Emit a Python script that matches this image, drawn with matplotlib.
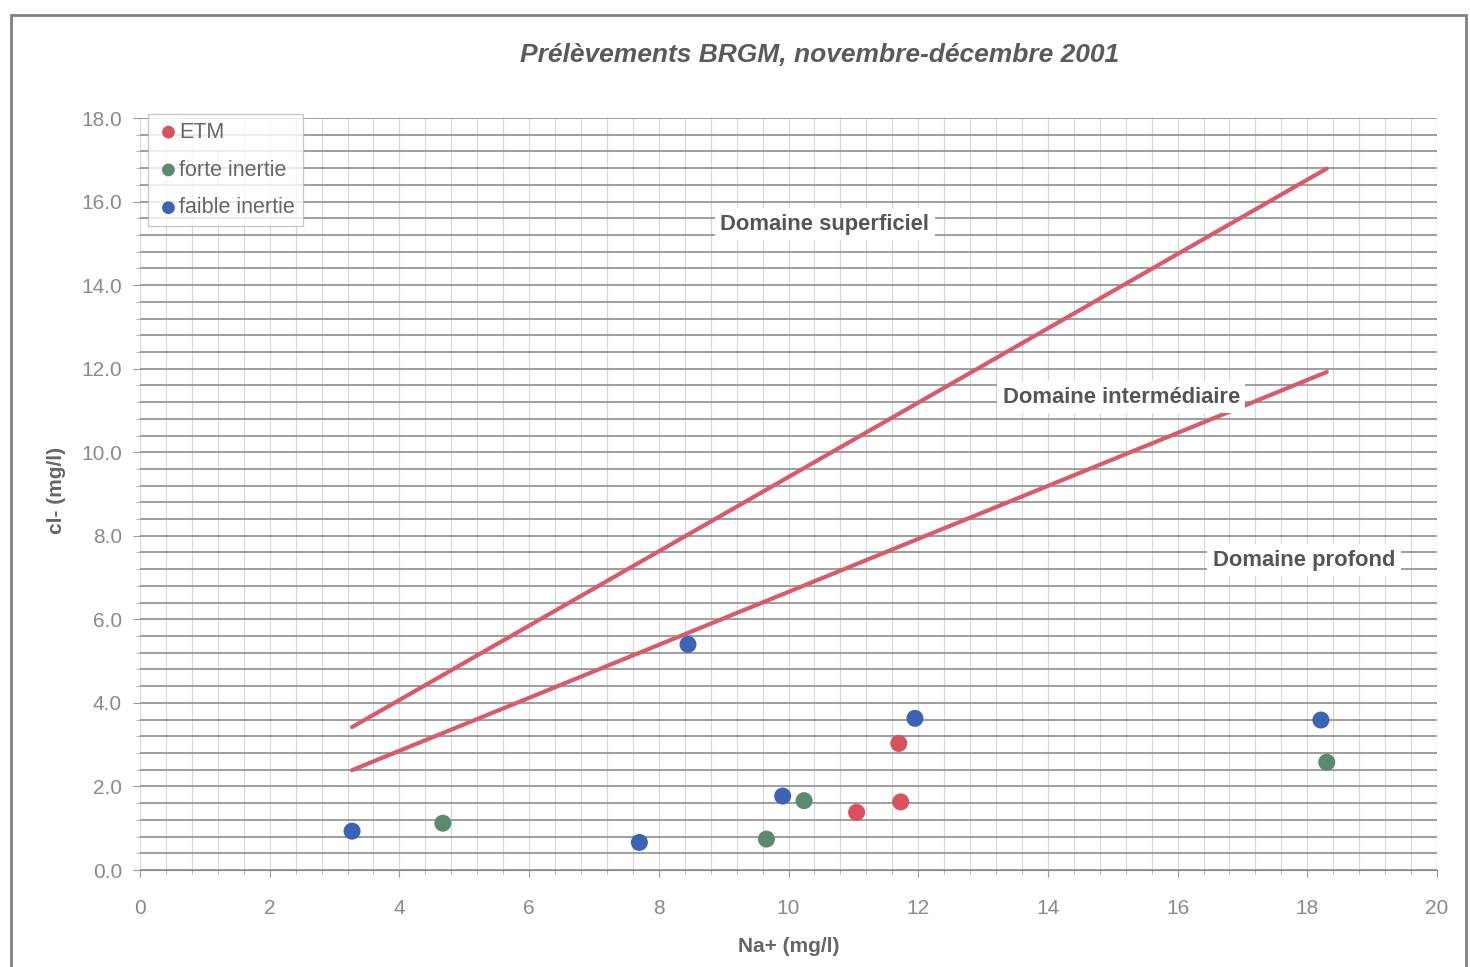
import matplotlib
matplotlib.use("Agg")
import matplotlib.pyplot as plt
import numpy as np
from matplotlib.patches import Rectangle
from matplotlib.ticker import MultipleLocator, FormatStrFormatter

plt.rcParams['font.family'] = ['Liberation Sans', 'DejaVu Sans']

# Data
etm_x = [11.05, 11.70, 11.73]
etm_y = [1.38, 3.03, 1.63]
forte_x = [4.67, 9.66, 10.24, 18.30]
forte_y = [1.12, 0.74, 1.66, 2.58]
faible_x = [3.27, 7.70, 8.45, 9.91, 11.95, 18.21]
faible_y = [0.93, 0.66, 5.40, 1.77, 3.63, 3.59]

line_sup_x = [3.27, 18.30]
line_sup_y = [3.42, 16.79]
line_int_x = [3.27, 18.30]
line_int_y = [2.39, 11.92]

title = "Prélèvements BRGM, novembre-décembre 2001"
xlabel = "Na+ (mg/l)"
ylabel = "cl- (mg/l)"

red = '#d9505e'
green = '#5b8a70'
blue = '#3d63b5'
linecol = '#d95a68'

fig = plt.figure(figsize=(14.7, 9.67), dpi=100)
ax = fig.add_axes([140/1470, 1-870/967, (1437-140)/1470, (870-118)/967])

# outer frame
fig.patches.append(Rectangle((11/1470, -0.05), (1466-11)/1470, 1.05 - 15/967,
                             transform=fig.transFigure, fill=False,
                             edgecolor='#808080', lw=2.0, zorder=0))

ax.set_xlim(0, 20)
ax.set_ylim(0, 18)

ax.xaxis.set_major_locator(MultipleLocator(2))
ax.xaxis.set_minor_locator(MultipleLocator(0.4))
ax.yaxis.set_major_locator(MultipleLocator(2))
ax.yaxis.set_minor_locator(MultipleLocator(0.4))
ax.yaxis.set_major_formatter(FormatStrFormatter('%.1f'))

ax.grid(which='both', axis='y', color='#8e8e8e', lw=1.2)
ax.grid(which='both', axis='x', color='#d8d8d8', lw=0.9)
ax.set_axisbelow(True)

for s in ['top', 'right', 'left']:
    ax.spines[s].set_visible(False)
ax.spines['bottom'].set_color('#888888')

ax.tick_params(axis='both', which='major', colors='#999999', labelsize=15,
               length=5, labelcolor='#8a8a8a')
ax.tick_params(axis='both', which='minor', colors='#aaaaaa', length=3)
ax.tick_params(axis='x', which='major', pad=16)
ax.tick_params(axis='y', which='major', pad=8)

ax.plot(line_sup_x, line_sup_y, color=linecol, lw=3, solid_capstyle='round', zorder=3)
ax.plot(line_int_x, line_int_y, color=linecol, lw=3, solid_capstyle='round', zorder=3)

ax.scatter(etm_x, etm_y, s=150, color=red, label='ETM', zorder=4, edgecolors='none')
ax.scatter(forte_x, forte_y, s=150, color=green, label='forte inertie', zorder=4, edgecolors='none')
ax.scatter(faible_x, faible_y, s=150, color=blue, label='faible inertie', zorder=4, edgecolors='none')

bbox = dict(boxstyle='square,pad=0.25', fc='white', ec='none')
ax.text(10.56, 15.46, "Domaine superficiel", ha='center', va='center', fontsize=15.8,
        fontweight='bold', color='#555555', bbox=bbox, zorder=5)
ax.text(15.13, 11.32, "Domaine intermédiaire", ha='center', va='center', fontsize=15.8,
        fontweight='bold', color='#555555', bbox=bbox, zorder=5)
ax.text(17.95, 7.42, "Domaine profond", ha='center', va='center', fontsize=15.8,
        fontweight='bold', color='#555555', bbox=bbox, zorder=5)

leg = ax.legend(loc='upper left', bbox_to_anchor=(8/1297, 1.005), fontsize=15.5,
                frameon=True, handletextpad=-0.1, handlelength=1.2, borderpad=0.35,
                labelspacing=0.78, markerscale=0.75, fancybox=False,
                borderaxespad=0)
leg.get_frame().set_edgecolor('#bbbbbb')
leg.get_frame().set_linewidth(1)
for t in leg.get_texts():
    t.set_color('#666666')

fig.text(820/1470, 1-55/967, title, ha='center', va='center', fontsize=19,
         fontweight='bold', fontstyle='italic', color='#5a5a5a')
fig.text(789/1470, 1-947/967, xlabel, ha='center', va='center', fontsize=15,
         fontweight='bold', color='#666666')
fig.text(57/1470, 1-490/967, ylabel, ha='center', va='center', fontsize=15,
         fontweight='bold', color='#666666', rotation=90)

fig.savefig('out.png', dpi=100)
